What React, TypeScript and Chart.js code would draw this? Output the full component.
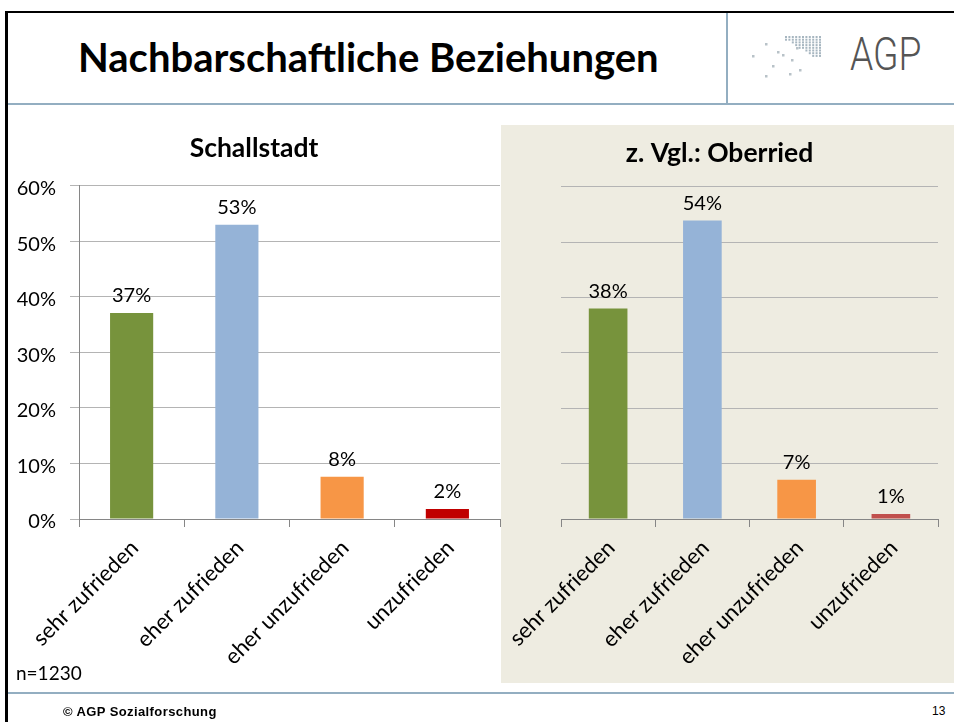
import React, { useEffect, useRef } from "react";
import { Chart, registerables } from "chart.js";

Chart.register(...registerables);

const categories = ["sehr zufrieden", "eher zufrieden", "eher unzufrieden", "unzufrieden"];
const schallstadtValues = [37.1, 53.0, 7.6, 1.8];
const oberriedValues = [38.0, 53.9, 7.1, 0.9];
const schallstadtColors = ["#77933C", "#95B3D7", "#F79646", "#C00000"];
const oberriedColors = ["#77933C", "#95B3D7", "#F79646", "#C0504D"];
const yTickValues = [0, 10, 20, 30, 40, 50, 60];

const FONT = "Lato, 'Open Sans', sans-serif";
const GRID = "#B4B4B4";
const AXIS = "#868686";
const FRAME = "#93AEC1";

const dataLabelPlugin = {
  id: "dataLabels",
  afterDatasetsDraw(chart: any) {
    const ctx = chart.ctx;
    const meta = chart.getDatasetMeta(0);
    const values = chart.data.datasets[0].data as number[];
    ctx.save();
    ctx.font = `20px ${FONT}`;
    ctx.fillStyle = "#000";
    ctx.textAlign = "center";
    ctx.textBaseline = "alphabetic";
    meta.data.forEach((bar: any, i: number) => {
      ctx.fillText(Math.round(values[i]) + "%", bar.x, bar.y - 11);
    });
    ctx.restore();
  },
};

type Cfg = {
  title: string;
  values: number[];
  colors: string[];
  showY: boolean;
  yWidth: number;
  xHeight: number;
  padTop: number;
  padBottom: number;
};

function makeConfig(c: Cfg): any {
  return {
    type: "bar",
    data: {
      labels: categories,
      datasets: [
        {
          data: c.values,
          backgroundColor: c.colors,
          borderWidth: 0,
          categoryPercentage: 1,
          barPercentage: 0.41,
        },
      ],
    },
    plugins: [dataLabelPlugin],
    options: {
      responsive: false,
      animation: false,
      devicePixelRatio: 1,
      layout: { padding: { left: 0, right: 16, top: 0, bottom: 0 } },
      plugins: {
        legend: { display: false },
        tooltip: { enabled: false },
        title: {
          display: true,
          text: c.title,
          color: "#000",
          font: { family: FONT, size: 26.5, weight: "bold", lineHeight: 1.2 },
          padding: { top: c.padTop, bottom: c.padBottom },
        },
      },
      scales: {
        x: {
          ticks: {
            color: "#000",
            font: { family: FONT, size: 22 },
            minRotation: 45,
            maxRotation: 45,
            autoSkip: false,
            padding: 8,
            labelOffset: 3,
          },
          grid: {
            display: true,
            drawOnChartArea: false,
            drawTicks: true,
            tickLength: 8,
            color: AXIS,
            offset: true,
          },
          border: { display: true, color: AXIS },
          afterFit: (s: any) => {
            s.height = c.xHeight;
            s.paddingLeft = 0;
            s.paddingRight = 0;
          },
        },
        y: {
          min: 0,
          max: 60,
          afterBuildTicks: (s: any) => {
            s.ticks = yTickValues.map((v) => ({ value: v }));
          },
          ticks: {
            display: c.showY,
            color: "#000",
            font: { family: FONT, size: 20 },
            padding: 14,
            labelOffset: 3,
            callback: (v: any) => v + "%",
          },
          grid: { color: GRID, drawTicks: c.showY, tickLength: 9 },
          border: { display: c.showY, color: AXIS },
          afterFit: (s: any) => {
            s.width = c.yWidth;
          },
        },
      },
    },
  };
}

function BarChart(props: Cfg & { width: number; height: number }) {
  const ref = useRef<HTMLCanvasElement>(null);
  useEffect(() => {
    if (!ref.current) return;
    const chart = new Chart(ref.current, makeConfig(props));
    return () => chart.destroy();
  }, []);
  return (
    <canvas
      ref={ref}
      width={props.width}
      height={props.height}
      style={{ width: props.width, height: props.height, display: "block" }}
    />
  );
}

const dotsTriangle: [number, number][] = [];
for (let r = 0; r < 8; r++) {
  for (let c = 0; c < 11; c++) {
    if (c >= Math.round(r * 1.3) - 1) dotsTriangle.push([35 + c * 3.4, 3 + r * 2.7]);
  }
}
const dotsScatter: [number, number][] = [
  [2, 22], [15, 10], [27, 18], [32, 21], [41, 26], [22, 32], [15, 42], [39, 40], [49, 36], [46, 14],
];

function Logo() {
  return (
    <svg width={80} height={50} style={{ position: "absolute", left: 750, top: 33 }}>
      {dotsTriangle.map(([x, y], i) => (
        <rect key={"t" + i} x={x} y={y} width={2} height={2} fill="#A7B6C0" />
      ))}
      {dotsScatter.map(([x, y], i) => (
        <rect key={"s" + i} x={x} y={y} width={2.5} height={2.5} fill="#B8C2C8" />
      ))}
    </svg>
  );
}

export default function App() {
  const abs = (s: React.CSSProperties): React.CSSProperties => ({ position: "absolute", ...s });
  return (
    <div
      style={{
        position: "absolute",
        left: 0,
        top: 0,
        width: 954,
        height: 722,
        background: "#fff",
        overflow: "hidden",
        fontFamily: FONT,
      }}
    >
      {/* frame */}
      <div style={abs({ left: 5, top: 11, width: 3, height: 711, background: "#000" })} />
      <div style={abs({ left: 5, top: 11, width: 949, height: 2, background: "#000" })} />
      <div style={abs({ left: 726, top: 13, width: 2, height: 90, background: FRAME })} />
      <div style={abs({ left: 8, top: 103, width: 946, height: 2, background: FRAME })} />
      <div style={abs({ left: 8, top: 692, width: 946, height: 2, background: FRAME })} />

      <div
        style={abs({
          left: 78,
          top: 37,
          fontSize: 40,
          lineHeight: 1,
          fontWeight: 700,
          color: "#000",
          whiteSpace: "nowrap",
        })}
      >
        Nachbarschaftliche Beziehungen
      </div>
      <Logo />
      <div
        style={abs({
          left: 850,
          top: 31,
          fontFamily: "Roboto, sans-serif",
          fontWeight: 300,
          fontSize: 46,
          lineHeight: 1,
          color: "#555",
          transform: "scaleX(0.81)",
          transformOrigin: "0 0",
          whiteSpace: "nowrap",
        })}
      >
        AGP
      </div>

      <div style={abs({ left: 8, top: 120 })}>
        <BarChart
          title="Schallstadt"
          values={schallstadtValues}
          colors={schallstadtColors}
          showY={true}
          yWidth={71}
          xHeight={171}
          padTop={13}
          padBottom={21}
          width={508}
          height={570}
        />
      </div>

      <div style={abs({ left: 501, top: 125, width: 453, height: 558, background: "#EEECE1" })}>
        <BarChart
          title="z. Vgl.: Oberried"
          values={oberriedValues}
          colors={oberriedColors}
          showY={false}
          yWidth={60}
          xHeight={164}
          padTop={13}
          padBottom={17}
          width={453}
          height={558}
        />
      </div>

      <div style={abs({ left: 16, top: 663, fontSize: 19, lineHeight: 1, color: "#000" })}>n=1230</div>

      <div
        style={abs({
          left: 63,
          top: 705,
          fontFamily: "'Liberation Sans', Arial, sans-serif",
          fontWeight: 700,
          fontSize: 13,
          letterSpacing: 0.4,
          lineHeight: "14px",
          color: "#000",
          whiteSpace: "nowrap",
        })}
      >
        © AGP Sozialforschung
      </div>
      <div
        style={abs({
          left: 932,
          top: 704,
          fontFamily: "'Liberation Sans', Arial, sans-serif",
          fontSize: 12,
          lineHeight: "14px",
          color: "#000",
        })}
      >
        13
      </div>
    </div>
  );
}
